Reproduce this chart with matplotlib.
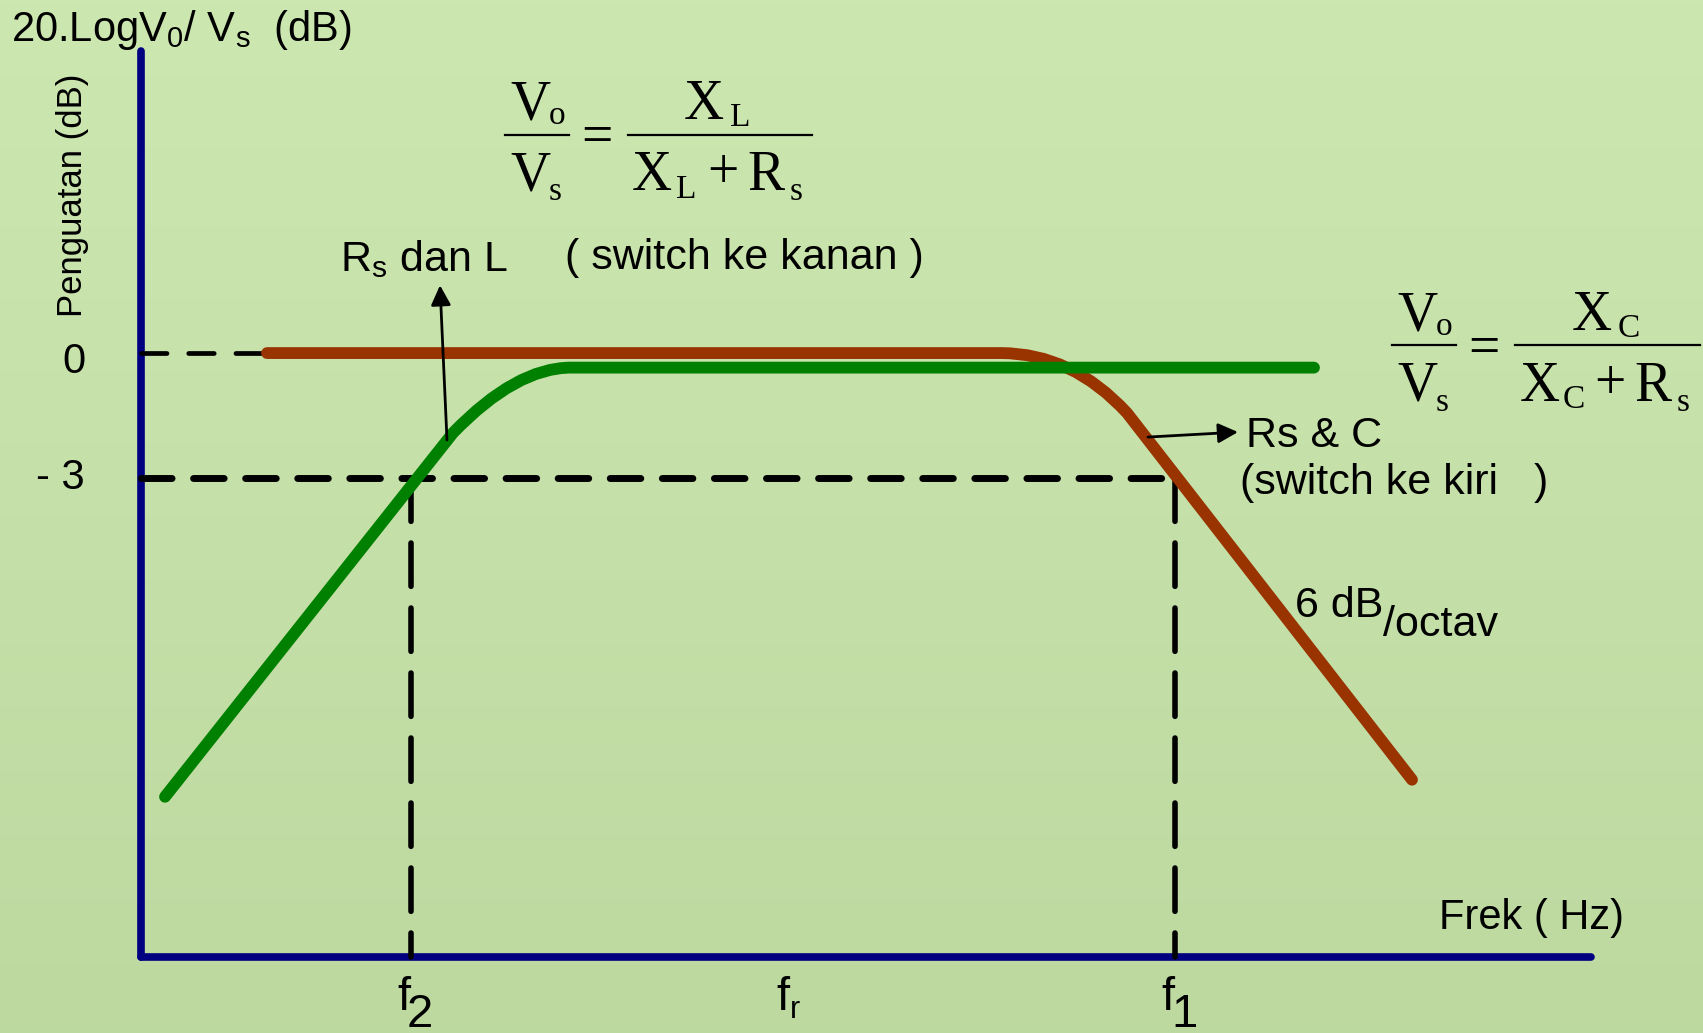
import numpy as np
import matplotlib
matplotlib.use("Agg")
import matplotlib.pyplot as plt
from matplotlib.path import Path
from matplotlib.patches import PathPatch
from matplotlib.lines import Line2D

plt.rcParams["font.family"] = ["Liberation Sans", "DejaVu Sans"]
plt.rcParams["mathtext.fontset"] = "custom"
plt.rcParams["mathtext.rm"] = "Liberation Sans"
plt.rcParams["mathtext.it"] = "Liberation Sans:italic"

# curve data: x = relative frequency units, y = gain in dB
# each curve: straight part, knee (start, control, end), straight part
green_pts = [(0.24, -10.67), (3.12, -1.92), (3.75, -0.35), (4.30, -0.35), (11.73, -0.35)]
red_pts = [(1.26, 0.0), (8.60, 0.0), (9.31, 0.0), (9.86, -1.44), (12.71, -10.26)]

f_pos = [2.70, 6.49, 10.34]          # f2, fr, f1
f_sub = ["2", "r", "1"]
level_vals = [0, -3]
level_labels = ["0", "- 3"]
x_end, y_bottom, y_top = 14.50, -14.52, 7.26
red_start = 1.26

W, H = 1703, 1033
S = W / 1568.0   # layout below measured on a 1568-wide copy


def fxy(x, y):
    return x * S / W, 1 - y * S / H


fig = plt.figure(figsize=(W / 100, H / 100), dpi=100)
ax = fig.add_axes([0, 0, 1, 1])
xlim = (-1.41, 15.62)
ylim = (-16.35, 8.49)

# background gradient
grad = np.linspace(0, 1, 256)[:, None]
top = np.array([0.804, 0.906, 0.694])
bot = np.array([0.741, 0.851, 0.627])
img = top[None, None, :] * (1 - grad[..., None]) + bot[None, None, :] * grad[..., None]
ax.imshow(img, extent=[xlim[0], xlim[1], ylim[0], ylim[1]], aspect="auto", zorder=0)

# axes
ax.plot([0, 0], [y_bottom, y_top], color="#000080", lw=5.5, solid_capstyle="round", zorder=2)
ax.plot([0, x_end], [y_bottom, y_bottom], color="#000080", lw=5.5, solid_capstyle="round", zorder=2)

# dashed guides
ax.plot([0, red_start], [0, 0], color="black", lw=3.4, dashes=(5.4, 4.6),
        dash_capstyle="round", zorder=3)
ax.plot([0, f_pos[2]], [-3, -3], color="black", lw=5, dashes=(4.4, 3.1),
        dash_capstyle="round", zorder=3)
for fx in (f_pos[0], f_pos[2]):
    ax.plot([fx, fx], [-3, y_bottom], color="black", lw=4, dashes=(7.8, 3.9),
            dash_capstyle="round", zorder=3)

# response curves (straight - quadratic knee - straight)
codes = [Path.MOVETO, Path.LINETO, Path.CURVE3, Path.CURVE3, Path.LINETO]
for pts, col, z in ((red_pts, "#993300", 4), (green_pts, "#008000", 5)):
    ax.add_patch(PathPatch(Path(pts, codes), facecolor="none", edgecolor=col, lw=8.5,
                           capstyle="round", joinstyle="round", zorder=z))

# annotation arrows
arr = dict(arrowstyle="-|>", color="black", lw=2, mutation_scale=30, shrinkA=0, shrinkB=0)
ax.annotate("", xy=(2.99, 1.63), xytext=(3.06, -2.09), arrowprops=arr, zorder=6)
ax.annotate("", xy=(10.97, -1.90), xytext=(10.07, -2.02), arrowprops=arr, zorder=6)

ax.set_xlim(*xlim)
ax.set_ylim(*ylim)
ax.axis("off")

# level labels
for v, lab in zip(level_vals, level_labels):
    ax.text(-0.56, v - (0.22 if v == 0 else 0), lab, fontsize=30, ha="right", va="center")

# frequency labels
narrow = ["Liberation Sans Narrow", "Liberation Sans"]
for fx, sub in zip(f_pos, f_sub):
    x0 = fx - 0.14
    ax.text(x0, -15.80, "f", fontsize=34, family=narrow, ha="left", va="baseline")
    if sub == "r":
        ax.text(x0 + 0.14, -16.0, sub, fontsize=22, family=narrow, ha="left", va="baseline")
    else:
        ax.text(x0 + 0.10, -16.2, sub, fontsize=34, family=narrow, ha="left", va="baseline")

# texts
fig.text(*fxy(10, 38), r"20.LogV$_0$/ V$_\mathrm{s}$  (dB)", fontsize=30, va="baseline")
fig.text(*fxy(67, 180), "Penguatan (dB)", fontsize=25, rotation=90, ha="center", va="center")
fig.text(*fxy(313, 250), r"R$_\mathrm{s}$ dan L", fontsize=31, va="baseline")
fig.text(*fxy(520, 248), "( switch ke kanan )", fontsize=31, va="baseline")
fig.text(*fxy(1147, 412), "Rs & C", fontsize=31, va="baseline")
fig.text(*fxy(1142, 455), "(switch ke kiri   )", fontsize=31, va="baseline")
fig.text(*fxy(1192, 568), "6 dB", fontsize=31, va="baseline")
fig.text(*fxy(1273, 586), "/octav", fontsize=31, va="baseline")
fig.text(*fxy(1325, 855), "Frek ( Hz)", fontsize=30, va="baseline")


def serif(x, y, s, size):
    fig.text(*fxy(x, y), s, fontsize=size, family="Liberation Serif", va="baseline")


def bar(x0, x1, y):
    (a, b), (c, _) = fxy(x0, y), fxy(x1, y)
    fig.add_artist(Line2D([a, c], [b, b], transform=fig.transFigure, color="black", lw=1.6))


def fraction_eq(x, y, sub):
    # x: left of first bar, y: height of the fraction bars (1568-wide coords)
    serif(x + 5, y - 14, "V", 40)
    serif(x + 40, y - 10, "o", 24)
    bar(x, x + 59, y)
    serif(x + 5, y + 51, "V", 40)
    serif(x + 40, y + 60, "s", 24)
    serif(x + 70, y + 17, "=", 40)
    bar(x + 113, x + 283, y)
    serif(x + 165, y - 14, "X", 40)
    serif(x + 207, y - 8, sub, 24)
    serif(x + 117, y + 51, "X", 40)
    serif(x + 157, y + 58, sub, 24)
    serif(x + 186, y + 49, "+", 40)
    serif(x + 223, y + 51, "R", 40)
    serif(x + 262, y + 60, "s", 24)


fraction_eq(465, 124, "L")
fraction_eq(1282, 318, "C")

fig.savefig("out.png", dpi=100)
